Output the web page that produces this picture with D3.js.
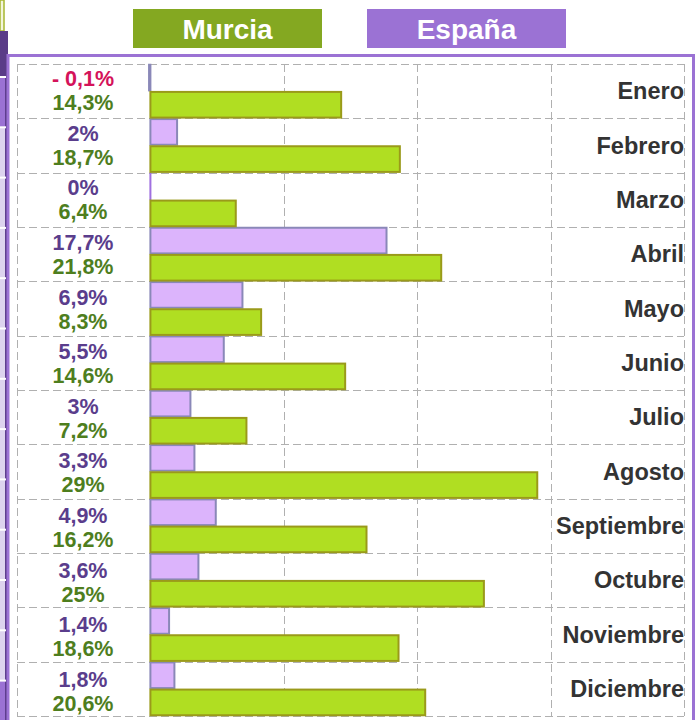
<!DOCTYPE html>
<html>
<head>
<meta charset="utf-8">
<script src="https://cdn.jsdelivr.net/npm/d3@7"></script>
<style>
  body { margin: 0; background: #fff; }
  svg { display: block; font-family: "Liberation Sans", Arial, sans-serif; }
</style>
</head>
<body>
<svg id="chart" width="698" height="720"></svg>
<script>
  var months = ["Enero", "Febrero", "Marzo", "Abril", "Mayo", "Junio", "Julio",
                "Agosto", "Septiembre", "Octubre", "Noviembre", "Diciembre"];
  var murcia = [14.3, 18.7, 6.4, 21.8, 8.3, 14.6, 7.2, 29, 16.2, 25, 18.6, 20.6];
  var espana = [-0.1, 2, 0, 17.7, 6.9, 5.5, 3, 3.3, 4.9, 3.6, 1.4, 1.8];
  var seriesNames = ["Murcia", "España"];
  var xTicks = [-10, 0, 10, 20, 30, 40];

  var svg = d3.select("#chart");

  var x = d3.scaleLinear().domain([-10, 40]).range([17, 684]);
  var y = d3.scaleBand().domain(months).range([64, 716]);
  var sub = d3.scaleBand().domain(["España", "Murcia"]).range([0, y.bandwidth()]);

  var fmt = function(v) {
    return (v < 0 ? "- " : "") + String(Math.abs(v)).replace(".", ",") + "%";
  };

  // left strip (cropped neighbour)
  var strip = svg.append("g");
  strip.append("rect").attr("x", 0).attr("y", 0).attr("width", 4).attr("height", 31)
      .attr("fill", "#f3f5dc").attr("stroke", "#a7b631").attr("stroke-width", 1.5);
  strip.append("rect").attr("x", 0).attr("y", 31).attr("width", 8).attr("height", 46).attr("fill", "#5a3c88");
  strip.append("rect").attr("x", 0).attr("y", 77).attr("width", 6).attr("height", 50).attr("fill", "#9b72d4");
  strip.append("rect").attr("x", 0).attr("y", 127).attr("width", 6).attr("height", 553).attr("fill", "#ddd3ee");
  strip.append("rect").attr("x", 0).attr("y", 680).attr("width", 6).attr("height", 40).attr("fill", "#9b72d4");
  strip.append("rect").attr("x", 5).attr("y", 77).attr("width", 2).attr("height", 643).attr("fill", "#5e3e8e");
  strip.selectAll("rect.tick").data(d3.range(0, 13)).enter().append("rect")
      .attr("x", 0).attr("y", function(i) { return 76 + i * 50.3; })
      .attr("width", 6).attr("height", 2).attr("fill", "#fff");

  // frame
  svg.append("path")
      .attr("d", "M8,720 L8,55.5 L693.5,55.5 L693.5,720")
      .attr("fill", "none").attr("stroke", "#9b72d4").attr("stroke-width", 3);

  // legend
  var legend = svg.append("g");
  var legendBoxes = [
    {name: seriesNames[0], x0: 133, x1: 322, fill: "#84a821"},
    {name: seriesNames[1], x0: 367, x1: 566, fill: "#9b72d4"}
  ];
  legend.selectAll("rect").data(legendBoxes).enter().append("rect")
      .attr("x", function(d) { return d.x0; }).attr("y", 9)
      .attr("width", function(d) { return d.x1 - d.x0; }).attr("height", 39)
      .attr("fill", function(d) { return d.fill; });
  legend.selectAll("text").data(legendBoxes).enter().append("text")
      .attr("x", function(d) { return (d.x0 + d.x1) / 2; }).attr("y", 39)
      .attr("text-anchor", "middle").attr("fill", "#fff")
      .attr("font-weight", "bold").attr("font-size", 28)
      .text(function(d) { return d.name; });

  // grid
  var grid = svg.append("g").attr("stroke", "#b0b0b0").attr("stroke-width", 1)
      .attr("stroke-dasharray", "8,4");
  var rowEdges = months.map(function(m) { return y(m); }).concat([y.range()[1]]);
  grid.selectAll("line.h").data(rowEdges).enter().append("line")
      .attr("x1", x(-10)).attr("x2", x(40))
      .attr("y1", function(d) { return Math.round(d) + 0.5; })
      .attr("y2", function(d) { return Math.round(d) + 0.5; });
  grid.selectAll("line.v").data(xTicks).enter().append("line")
      .attr("y1", y.range()[0]).attr("y2", y.range()[1])
      .attr("x1", function(d) { return Math.round(x(d)) + 0.5; })
      .attr("x2", function(d) { return Math.round(x(d)) + 0.5; });

  // bars
  var rows = months.map(function(m, i) { return {month: m, i: i, murcia: murcia[i], espana: espana[i]}; });

  svg.selectAll("rect.esp").data(rows).enter().append("rect")
      .attr("x", function(d) { return x(Math.min(0, d.espana)); })
      .attr("y", function(d) { return y(d.month) + sub("España") + 0.75; })
      .attr("width", function(d) { return Math.max(0.01, Math.abs(x(d.espana) - x(0))); })
      .attr("height", sub.bandwidth() - 1.5)
      .attr("fill", "#dcb4fc")
      .attr("stroke", function(d) { return d.espana === 0 ? "#a070e0" : "#8a88b8"; })
      .attr("stroke-width", 2);

  svg.selectAll("rect.mur").data(rows).enter().append("rect")
      .attr("x", x(0))
      .attr("y", function(d) { return y(d.month) + sub("Murcia") + 0.75; })
      .attr("width", function(d) { return x(d.murcia) - x(0); })
      .attr("height", sub.bandwidth() - 1.5)
      .attr("fill", "#b0de22").attr("stroke", "#9a9a1a").attr("stroke-width", 2);

  // value labels
  var labels = svg.append("g").attr("font-weight", "bold").attr("font-size", 21.5)
      .attr("text-anchor", "middle");
  labels.selectAll("text.esp").data(rows).enter().append("text")
      .attr("x", 83)
      .attr("y", function(d) { return y(d.month) + 22 + d.i * 0.3; })
      .attr("fill", function(d) { return d.espana < 0 ? "#d4135a" : "#5a3d8c"; })
      .text(function(d) { return fmt(d.espana); });
  labels.selectAll("text.mur").data(rows).enter().append("text")
      .attr("x", 83)
      .attr("y", function(d) { return y(d.month) + 46 + d.i * 0.3; })
      .attr("fill", "#4e7e1e")
      .text(function(d) { return fmt(d.murcia); });

  // month labels
  svg.append("g").selectAll("text").data(months).enter().append("text")
      .attr("x", 684)
      .attr("y", function(m) { return y(m) + y.bandwidth() / 2 + 8; })
      .attr("text-anchor", "end").attr("font-weight", "bold").attr("font-size", 23.5)
      .attr("fill", "#333")
      .text(function(m) { return m; });
</script>
</body>
</html>
